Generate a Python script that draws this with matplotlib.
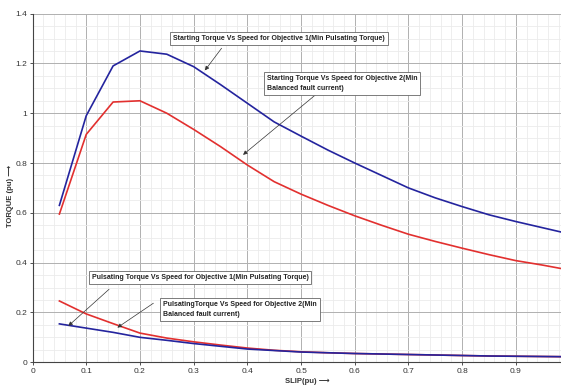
import matplotlib
matplotlib.use("Agg")
import matplotlib.pyplot as plt
from matplotlib.ticker import MultipleLocator
import numpy as np

# ---- data ----
slip = [0.05, 0.10, 0.15, 0.20, 0.25, 0.30, 0.35, 0.40, 0.45, 0.50,
        0.55, 0.60, 0.65, 0.70, 0.75, 0.80, 0.85, 0.90, 0.95, 1.00]
start_obj1 = [0.63, 0.99, 1.19, 1.25, 1.237, 1.187, 1.115, 1.04, 0.965, 0.908,
              0.852, 0.80, 0.75, 0.70, 0.66, 0.625, 0.592, 0.565, 0.54, 0.515]
start_obj2 = [0.595, 0.915, 1.045, 1.05, 1.0, 0.935, 0.866, 0.792, 0.725, 0.675,
              0.63, 0.588, 0.55, 0.514, 0.485, 0.458, 0.432, 0.408, 0.39, 0.37]
puls_obj1 = [0.154, 0.137, 0.12, 0.1, 0.088, 0.075, 0.064, 0.053, 0.047, 0.041,
             0.038, 0.035, 0.033, 0.031, 0.029, 0.027, 0.025, 0.024, 0.023, 0.022]
puls_obj2 = [0.246, 0.194, 0.155, 0.117, 0.097, 0.082, 0.069, 0.057, 0.048, 0.042,
             0.038, 0.035, 0.033, 0.031, 0.029, 0.027, 0.025, 0.024, 0.023, 0.022]

xticks = [0, 0.1, 0.2, 0.3, 0.4, 0.5, 0.6, 0.7, 0.8, 0.9]
xticklabels = ["0", "0.1", "0.2", "0.3", "0.4", "0.5", "0.6", "0.7", "0.8", "0.9"]
yticks = [0, 0.2, 0.4, 0.6, 0.8, 1.0, 1.2, 1.4]
yticklabels = ["0", "0.2", "0.4", "0.6", "0.8", "1", "1.2", "1.4"]

labels = [
    "Starting Torque Vs Speed for Objective 1(Min Pulsating Torque)",
    "Starting Torque Vs Speed for Objective 2(Min\nBalanced fault current)",
    "Pulsating Torque Vs Speed for Objective 1(Min Pulsating Torque)",
    "PulsatingTorque Vs Speed for Objective 2(Min\nBalanced fault current)",
]

plt.rcParams['font.family'] = ['Liberation Sans', 'DejaVu Sans']

BLUE = '#24249e'
RED = '#e2302f'

fig = plt.figure(figsize=(5.61, 3.87), dpi=100)
ax = fig.add_axes([0.058, 0.064, 0.942, 0.9008])

ax.plot(slip, start_obj1, color=BLUE, lw=1.2, zorder=3)
ax.plot(slip, start_obj2, color=RED, lw=1.2, zorder=3)
ax.plot(slip, puls_obj2, color=RED, lw=1.2, zorder=3)
ax.plot(slip, puls_obj1, color=BLUE, lw=1.2, zorder=3)

ax.set_xlim(0, 0.984)
ax.set_ylim(0, 1.4)
ax.set_xticks(xticks)
ax.set_xticklabels(xticklabels)
ax.set_yticks(yticks)
ax.set_yticklabels(yticklabels)
ax.xaxis.set_minor_locator(MultipleLocator(0.02))
ax.yaxis.set_minor_locator(MultipleLocator(0.05))
ax.grid(which='major', color='#b0b0b0', lw=0.7)
ax.grid(which='minor', color='#ebebeb', lw=0.6)
ax.set_axisbelow(True)
ax.tick_params(which='major', labelsize=6, length=2.5, width=0.6, colors='#333333', pad=1.5)
ax.tick_params(which='minor', length=0)
for s in ['top', 'right']:
    ax.spines[s].set_visible(False)
for s in ['left', 'bottom']:
    ax.spines[s].set_color('#444444')
    ax.spines[s].set_linewidth(0.8)

ax.text(-0.041, 0.477, "TORQUE (pu) \u27f6", transform=ax.transAxes, rotation=90,
        ha='center', va='center', fontsize=5.5, fontweight='bold', color='#333333')
fig.text(0.547, 0.014, "SLIP(pu) \u27f6", ha='center', va='center',
         fontsize=5.5, fontweight='bold', color='#333333')

bbox = dict(boxstyle='square,pad=0.4', fc='white', ec='#666666', lw=0.6)
arrow = dict(arrowstyle='-|>', color='#333333', lw=0.5, mutation_scale=6,
             shrinkA=0, shrinkB=0)

ax.text(0.262, 1.301, labels[0], ha='left', va='center', fontsize=5,
        fontweight='bold', color='#222222', bbox=bbox, zorder=5)
ax.annotate("", xy=(0.321, 1.172), xytext=(0.352, 1.261), arrowprops=arrow, zorder=4)

ax.text(0.436, 1.119, labels[1], ha='left', va='center', fontsize=5,
        fontweight='bold', color='#222222', bbox=bbox, linespacing=1.7, zorder=5)
ax.annotate("", xy=(0.392, 0.833), xytext=(0.527, 1.074), arrowprops=arrow, zorder=4)

ax.text(0.11, 0.341, labels[2], ha='left', va='center', fontsize=5,
        fontweight='bold', color='#222222', bbox=bbox, zorder=5)
ax.annotate("", xy=(0.0667, 0.146), xytext=(0.1425, 0.293), arrowprops=arrow, zorder=4)

ax.text(0.243, 0.211, labels[3], ha='left', va='center', fontsize=5,
        fontweight='bold', color='#222222', bbox=bbox, linespacing=1.7, zorder=5)
ax.annotate("", xy=(0.158, 0.139), xytext=(0.225, 0.237), arrowprops=arrow, zorder=4)

fig.savefig("out.png", dpi=100)
